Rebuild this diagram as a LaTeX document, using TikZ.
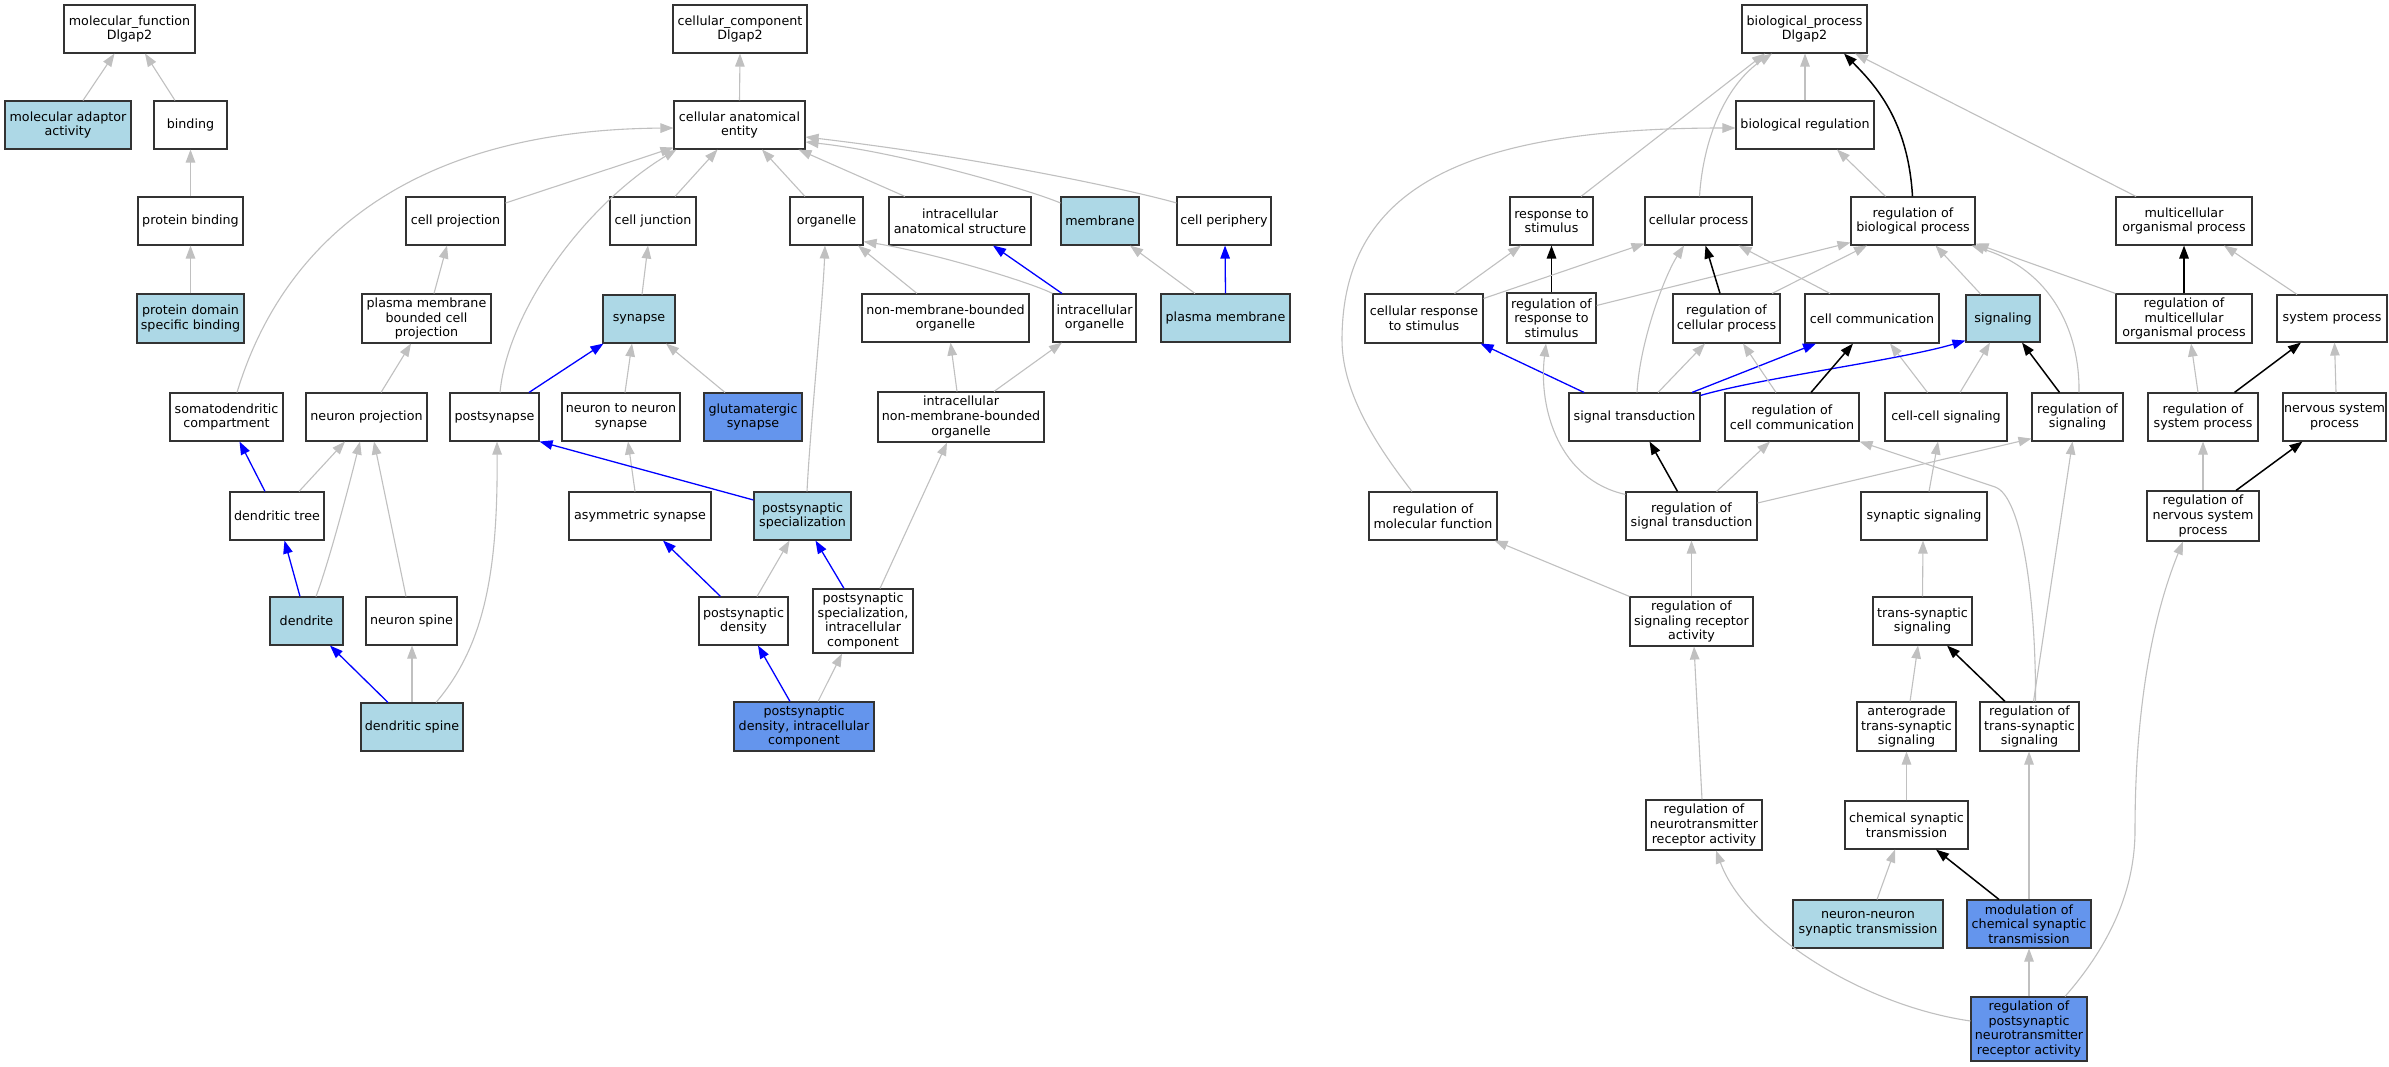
\documentclass[tikz,border=0pt]{standalone}
\usepackage{fontspec}
\setmainfont{DejaVu Sans}
\usetikzlibrary{arrows.meta}
\definecolor{bord}{HTML}{333333}
\definecolor{lblue}{HTML}{ADD8E6}
\definecolor{cblue}{HTML}{6495ED}
\definecolor{egray}{HTML}{C0C0C0}
\definecolor{eblue}{HTML}{0000FF}
\newcommand\nd[7]{\node[#1, minimum width=#5pt, minimum height=#6pt] (#2) at (#3,#4) {#7};}
\newcommand\ed[5]{\draw[#1] ([xshift=#3pt]#2.north) -- ([xshift=#5pt]#4.south);}
\begin{document}
\begin{tikzpicture}[x=1pt,y=-1pt,
  box/.style={draw=bord, line width=1.1pt, fill=white, inner sep=0pt, align=center, font=\fontsize{12.7}{14.7}\selectfont},
  lb/.style={box, fill=lblue},
  cb/.style={box, fill=cblue},
  tip/.style={-{Triangle[length=13pt,width=9.5pt]}},
  g/.style={tip, draw=egray, line width=1.1pt},
  bl/.style={tip, draw=eblue, line width=1.3pt},
  bk/.style={tip, draw=black, line width=1.5pt}]
\useasboundingbox (0,0) rectangle (2389,1067);
\fill[white] (0,0) rectangle (2389,1067);
% ---------- molecular function ----------
\nd{box}{mf}{129.5}{29}{131}{48}{molecular\_function\\Dlgap2}
\nd{lb}{maa}{68}{125}{126}{48}{molecular adaptor\\activity}
\nd{box}{bind}{190.5}{125}{73}{48}{binding}
\nd{box}{pb}{190.5}{221}{105}{48}{protein binding}
\nd{lb}{pdsb}{190.5}{318.5}{107}{49}{protein domain\\specific binding}
% ---------- cellular component ----------
\nd{box}{cc}{740}{29}{134}{48}{cellular\_component\\Dlgap2}
\nd{box}{cae}{739.5}{125}{131}{48}{cellular anatomical\\entity}
\nd{box}{cp}{455.5}{221}{99}{48}{cell projection}
\nd{box}{cj}{653}{221}{86}{48}{cell junction}
\nd{box}{org}{826.5}{221}{73}{48}{organelle}
\nd{box}{ias}{960}{221}{142}{48}{intracellular\\anatomical structure}
\nd{lb}{mem}{1100}{221}{78}{48}{membrane}
\nd{box}{cper}{1224}{221}{94}{48}{cell periphery}
\nd{box}{pmbcp}{426.5}{318.5}{129}{49}{plasma membrane\\bounded cell\\projection}
\nd{lb}{syn}{639}{319}{72}{48}{synapse}
\nd{box}{nmbo}{945.5}{318}{167}{48}{non-membrane-bounded\\organelle}
\nd{box}{io}{1094.5}{318}{83}{48}{intracellular\\organelle}
\nd{lb}{pm}{1225.5}{318}{129}{48}{plasma membrane}
\nd{box}{sdc}{226.5}{417}{113}{48}{somatodendritic\\compartment}
\nd{box}{np}{366.5}{417}{121}{48}{neuron projection}
\nd{box}{psyn}{494.5}{417}{89}{48}{postsynapse}
\nd{box}{nns}{621}{417}{118}{48}{neuron to neuron\\synapse}
\nd{cb}{gs}{753}{417}{98}{48}{glutamatergic\\synapse}
\nd{box}{inmbo}{961}{417}{166}{50}{intracellular\\non-membrane-bounded\\organelle}
\nd{box}{dt}{277}{516}{94}{48}{dendritic tree}
\nd{box}{as}{640}{516}{142}{48}{asymmetric synapse}
\nd{lb}{pss}{802.5}{516}{97}{48}{postsynaptic\\specialization}
\nd{lb}{den}{306.5}{621}{73}{48}{dendrite}
\nd{box}{ns}{411.5}{621}{91}{48}{neuron spine}
\nd{box}{psd}{743.5}{621}{89}{48}{postsynaptic\\density}
\nd{box}{pssic}{863}{621}{100}{64}{postsynaptic\\specialization,\\intracellular\\component}
\nd{lb}{ds}{412}{727}{102}{48}{dendritic spine}
\nd{cb}{psdic}{804}{726.5}{140}{49}{postsynaptic\\density, intracellular\\component}
% ---------- biological process ----------
\nd{box}{bp}{1804.5}{29}{125}{48}{biological\_process\\Dlgap2}
\nd{box}{br}{1805}{125}{138}{48}{biological regulation}
\nd{box}{rts}{1551.5}{221}{83}{48}{response to\\stimulus}
\nd{box}{cpr}{1698.5}{221}{107}{48}{cellular process}
\nd{box}{rbp}{1913}{221}{124}{48}{regulation of\\biological process}
\nd{box}{mop}{2184}{221}{136}{48}{multicellular\\organismal process}
\nd{box}{crs}{1424}{318.5}{118}{49}{cellular response\\to stimulus}
\nd{box}{rrs}{1551.5}{318}{89}{50}{regulation of\\response to\\stimulus}
\nd{box}{rcp}{1726.5}{318.5}{107}{49}{regulation of\\cellular process}
\nd{box}{ccom}{1872}{318.5}{134}{49}{cell communication}
\nd{lb}{sig}{2003}{318.5}{74}{47}{signaling}
\nd{box}{rmop}{2184}{318.5}{136}{49}{regulation of\\multicellular\\organismal process}
\nd{box}{sp}{2332}{318.5}{110}{47}{system process}
\nd{box}{st}{1634.5}{417}{131}{48}{signal transduction}
\nd{box}{rcc}{1792}{417}{134}{48}{regulation of\\cell communication}
\nd{box}{ccs}{1946}{417}{122}{48}{cell-cell signaling}
\nd{box}{rsig}{2077.5}{417}{91}{48}{regulation of\\signaling}
\nd{box}{rsp}{2203}{417}{110}{48}{regulation of\\system process}
\nd{box}{nsp}{2334.5}{417}{103}{48}{nervous system\\process}
\nd{box}{rmf}{1433}{516}{128}{48}{regulation of\\molecular function}
\nd{box}{rst}{1691.5}{516}{131}{48}{regulation of\\signal transduction}
\nd{box}{ssig}{1924}{516}{126}{48}{synaptic signaling}
\nd{box}{rnsp}{2203}{516}{112}{50}{regulation of\\nervous system\\process}
\nd{box}{rsra}{1691.5}{621.5}{123}{49}{regulation of\\signaling receptor\\activity}
\nd{box}{tss}{1922.5}{621}{99}{48}{trans-synaptic\\signaling}
\nd{box}{atss}{1906.5}{726.5}{99}{49}{anterograde\\trans-synaptic\\signaling}
\nd{box}{rtss}{2029.5}{726.5}{99}{49}{regulation of\\trans-synaptic\\signaling}
\nd{box}{rnra}{1704}{825}{116}{50}{regulation of\\neurotransmitter\\receptor activity}
\nd{box}{cst}{1906.5}{825}{123}{48}{chemical synaptic\\transmission}
\nd{lb}{nnst}{1868}{924}{150}{48}{neuron-neuron\\synaptic transmission}
\nd{cb}{mcst}{2029}{924}{124}{48}{modulation of\\chemical synaptic\\transmission}
\nd{cb}{rpnra}{2029}{1029}{116}{64}{regulation of\\postsynaptic\\neurotransmitter\\receptor activity}
% ---------- MF edges ----------
\ed{g}{maa}{15}{mf}{-15}
\ed{g}{bind}{-15.5}{mf}{15.5}
\ed{g}{pb}{0}{bind}{0}
\ed{g}{pdsb}{0}{pb}{0}
% ---------- CC edges ----------
\ed{g}{cae}{0}{cc}{0}
\draw[g] ([yshift=18pt]cp.east) -- ([yshift=2pt]cae.south west);
\draw[g] ([xshift=10.5pt]sdc.north) .. controls (280,250) and (400,130) .. ([yshift=-3pt]cae.west);
\draw[g] ([xshift=5.5pt]psyn.north) .. controls (508,310) and (585,205) .. ([xshift=3pt]cae.south west);
\ed{g}{cj}{22}{cae}{-22}
\ed{g}{org}{-21.5}{cae}{22.5}
\ed{g}{ias}{-55}{cae}{59}
\draw[g] ([yshift=18pt]mem.west) .. controls (1030,190) and (900,152) .. ([yshift=-17pt]cae.east);
\draw[g] ([yshift=18pt]cper.west) .. controls (1150,195) and (1000,160) .. ([yshift=-12pt]cae.east);
\ed{g}{pmbcp}{7.5}{cp}{-8.5}
\ed{g}{np}{14.5}{pmbcp}{-15.5}
\ed{g}{syn}{3}{cj}{-5}
\draw[bl] ([xshift=34.5pt]psyn.north) -- ([xshift=1pt]syn.south west);
\ed{g}{nns}{4}{syn}{-7}
\ed{g}{gs}{-28}{syn}{27}
\draw[g] ([xshift=4.5pt]pss.north) .. controls (810,430) and (823,300) .. ([xshift=-1.5pt]org.south);
\ed{g}{nmbo}{-28.5}{org}{31.5}
\draw[g] (io.north west) .. controls (1030,282) and (930,252) .. ([yshift=4pt]org.south east);
\ed{bl}{io}{-32.5}{ias}{33}
\ed{g}{pm}{-30.5}{mem}{30}
\ed{bl}{pm}{0}{cper}{1}
\ed{g}{inmbo}{-4}{nmbo}{5}
\ed{g}{inmbo}{33}{io}{-32.5}
\ed{bl}{dt}{-12}{sdc}{13}
\ed{g}{dt}{22}{np}{-21.5}
\ed{bl}{den}{-6.5}{dt}{7.5}
\draw[g] ([xshift=9.5pt]den.north) .. controls (328,565) and (348,490) .. ([xshift=-6.5pt]np.south);
\ed{g}{ns}{-5.5}{np}{7.5}
\ed{bl}{ds}{-24}{den}{23.5}
\ed{g}{ds}{0}{ns}{0.5}
\draw[g] ([xshift=24pt]ds.north) .. controls (485,645) and (498,570) .. ([xshift=2.5pt]psyn.south);
\ed{g}{as}{-5}{nns}{7}
\draw[bl] ([yshift=16pt]pss.west) -- (psyn.south east);
\ed{bl}{psd}{-23}{as}{23}
\ed{g}{psd}{13.5}{pss}{-13}
\ed{bl}{pssic}{-19}{pss}{13}
\ed{g}{pssic}{17}{inmbo}{-14}
\ed{bl}{psdic}{-14}{psd}{14.5}
\ed{g}{psdic}{14}{pssic}{-21}
% ---------- BP edges ----------
\ed{g}{br}{0}{bp}{0.5}
\ed{g}{rts}{29.5}{bp}{-39.5}
\draw[g] ([xshift=1pt]cpr.north) .. controls (1703,140) and (1725,85) .. ([xshift=-32.5pt]bp.south);
\draw[bk] ([xshift=-0.5pt]rbp.north) .. controls (1908,120) and (1875,85) .. ([xshift=39.5pt]bp.south);
\ed{g}{mop}{-48}{bp}{50.5}
\draw[g] ([xshift=-21pt]rmf.north) .. controls (1380,450) and (1342,395) .. (1342,340) .. controls (1342,190) and (1460,128) .. ([yshift=-3pt]br.west);
\ed{g}{rbp}{-27.5}{br}{32}
\ed{bk}{rrs}{0}{rts}{0}
\ed{g}{crs}{30.5}{rts}{-30.5}
\draw[g] ([yshift=20pt]crs.east) -- ([yshift=2pt]cpr.south west);
\draw[g] ([yshift=12.5pt]rrs.east) -- ([yshift=3pt]rbp.south west);
\ed{bk}{rcp}{-6.5}{cpr}{7}
\ed{g}{rcp}{45.5}{rbp}{-46}
\ed{g}{ccom}{-42}{cpr}{40}
\ed{g}{sig}{-22}{rbp}{22.5}
\ed{bk}{rmop}{0}{mop}{0}
\draw[g] (rmop.north west) -- ([yshift=2pt]rbp.south east);
\draw[g] ([xshift=1.5pt]rsig.north) .. controls (2080,330) and (2050,270) .. ([xshift=-4pt]rbp.south east);
\ed{g}{sp}{-35}{mop}{40}
\ed{bk}{rsig}{-18}{sig}{19}
\ed{g}{ccs}{14}{sig}{-13}
\ed{g}{ccs}{-18.5}{ccom}{18}
\draw[bl] ([xshift=-50.5pt]st.north) -- ([xshift=-3pt]crs.south east);
\draw[g] ([xshift=2.5pt]st.north) .. controls (1640,340) and (1665,275) .. ([xshift=-14.5pt]cpr.south);
\ed{g}{st}{23.5}{rcp}{-21.5}
\ed{bl}{st}{57.5}{ccom}{-56}
\draw[bl] ([yshift=-3pt]st.north east) .. controls (1760,378) and (1900,360) .. ([yshift=2pt]sig.south west);
\ed{bk}{rcc}{19}{ccom}{-19}
\ed{g}{rcc}{-16}{rcp}{16.5}
\ed{bk}{rst}{-14}{st}{15}
\ed{g}{rst}{25}{rcc}{-22}
\draw[g] ([yshift=-3pt]rst.north west) .. controls (1560,480) and (1538,410) .. ([xshift=-5.5pt]rrs.south);
\draw[g] ([yshift=13pt]rst.east) -- ([yshift=3pt]rsig.south west);
\draw[g] (rsra.north west) -- ([xshift=-3pt]rmf.south east);
\ed{g}{rsra}{0}{rst}{0}
\ed{g}{ssig}{5}{ccs}{-8}
\ed{g}{tss}{0}{ssig}{-1}
\draw[g] ([xshift=6pt]rtss.north) .. controls (2036,600) and (2022,496) .. (1995,487) -- (rcc.south east);
\ed{g}{rtss}{4}{rsig}{-5}
\ed{bk}{rtss}{-24.5}{tss}{24.5}
\ed{g}{atss}{3.5}{tss}{-4.5}
\ed{g}{cst}{0}{atss}{0}
\ed{g}{nnst}{9}{cst}{-11.5}
\ed{bk}{mcst}{-30}{cst}{29.5}
\ed{g}{mcst}{0}{rtss}{-0.5}
\ed{g}{rnra}{-2}{rsra}{2.5}
\ed{g}{rpnra}{0}{mcst}{0}
\draw[g] ([yshift=8pt]rpnra.west) .. controls (1860,1005) and (1745,930) .. ([xshift=12pt]rnra.south);
\draw[g] ([xshift=36pt]rpnra.north) .. controls (2110,945) and (2135,890) .. (2135,830) .. controls (2135,700) and (2155,610) .. ([xshift=-20pt]rnsp.south);
\ed{g}{rnsp}{0}{rsp}{0}
\ed{bk}{rnsp}{33}{nsp}{-32}
\ed{bk}{rsp}{31.5}{sp}{-31}
\ed{g}{rsp}{-5}{rmop}{7}
\ed{g}{nsp}{1.5}{sp}{2.5}
\end{tikzpicture}
\end{document}
